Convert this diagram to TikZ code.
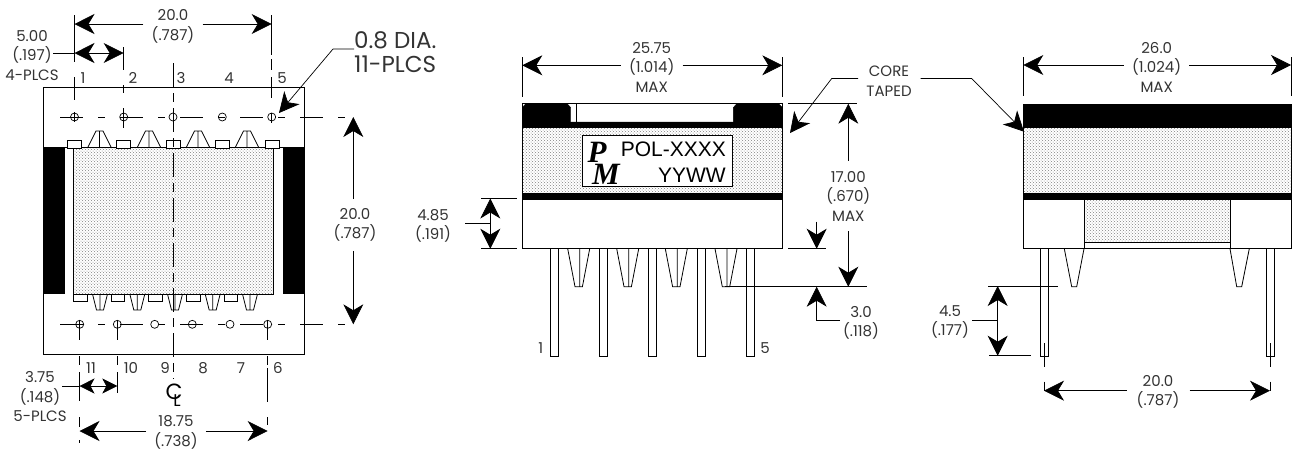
\documentclass[tikz,border=0pt]{standalone}
\usepackage{fontspec}
\setmainfont{Poppins}
\newfontfamily\markfont{Liberation Sans}
\newfontfamily\logofont{Liberation Serif}
\usetikzlibrary{positioning,arrows.meta,patterns}
\tikzset{
  part/.style={draw=black,line width=.8pt},
  core/.style={part,pattern=crosshatch dots,pattern color=black!50},
  solid black/.style={draw=black,fill=black},
  pad/.style={part,fill=white},
  thinline/.style={draw=black,line width=.7pt},
  center line/.style={thinline,dash pattern=on 23pt off 15pt on 7pt off 15pt},
  center dash/.style={thinline,dash pattern=on 24pt off 6pt on 9pt off 6pt},
  dim/.style={thinline,-{Stealth[length=20pt,width=20pt,inset=6pt]}},
  short dim/.style={thinline,-{Stealth[length=15pt,width=15pt,inset=4pt]}},
  dimtext/.style={align=center,inner xsep=8pt,inner ysep=0pt,text=black!80,
    font=\fontsize{15}{19.5}\selectfont},
  pinno/.style={inner sep=0pt,text=black!80,font=\fontsize{15}{16}\selectfont}
}
\begin{document}
\begin{tikzpicture}[x=1pt,y=-1pt]
    \useasboundingbox (0,0) rectangle (1293,451);
    % top view
    \draw[part] (43,87) rectangle (304,354.5);
    \draw[solid black] (43,147) rectangle (64,293.5);
    \draw[solid black] (283,147) rectangle (304,293.5);
    \draw[part] (43,147) -- (304,147);
    \draw[core] (73.5,147.5) rectangle (273.5,294);
    \foreach \x in {67.7,116.7,166,215.3,265}
      \draw[pad] (\x,140) rectangle ++(14,8);
    \foreach \x in {99.5,149,198,247}
      \draw[part] (\x-11.5,147) -- (\x-3.5,131) -- (\x+3.5,131) -- (\x+11.5,147) (\x,131) -- (\x,147);
    \foreach \x in {73.5,111.3,148.8,186.5,224}
      \draw[pad] (\x,294) rectangle ++(13.5,7.7);
    \foreach \x in {100,137.3,175,212.7,250}
      \draw[part] (\x-7.5,294) -- (\x-3.5,310) -- (\x+3.5,310) -- (\x+7.5,294) (\x,294) -- (\x,310);
    \draw[center line] (60,117) -- (353,117);
    \draw[center line] (60,324.3) -- (353,324.3);
    \foreach \x in {74.5,123.7,173,222.3,271.7}
      \draw[thinline] (\x,117) circle (4);
    \foreach \x in {79.7,117.3,154.7,192.3,230,267.7}
      \draw[thinline] (\x,324.3) circle (4);
    \draw[center dash] (173,63) -- (173,379);
    \foreach \x/\ya/\yb in {74.5/15/62,74.5/77/100,74.5/112/122,
      123.7/47/70,123.7/85/93,123.7/108/128,
      271.7/15/55,271.7/59/70,271.7/77/98,271.7/113/123,
      79.5/320/340,79.5/356/365,79.5/372/401,79.5/417/427,79.5/440/443,
      117.3/320/340,117.3/356/365,117.3/372/393,
      267.7/320/340,267.7/356/365,267.7/368/402,267.7/417/425}
      \draw[thinline] (\x,\ya) -- (\x,\yb);
    \foreach \n/\x in {1/83,2/133,3/181,4/229,5/282}
      \node[pinno] (top\n) at (\x,78) {\n};
    \foreach \n/\x in {11/91,10/131,9/165,8/203,7/241,6/278}
      \node[pinno] (bot\n) at (\x,368) {\n};
    \node[inner sep=0pt,font=\fontsize{22}{22}\selectfont] (clc) at (174,392) {C};
    \node[inner sep=0pt,font=\fontsize{17}{17}\selectfont] (cll) at (177,401) {L};
    \coordinate (a1) at (74.5,24);
    \coordinate (a2) at (271.7,24);
    \node[dimtext] (w20) at (173,26.5) {20.0\\(.787)};
    \draw[dim] (w20.west |- a1) -- (a1);
    \draw[dim] (w20.east |- a2) -- (a2);
    \coordinate (b1) at (74.5,53);
    \coordinate (b2) at (123.7,53);
    \coordinate (b3) at (99,53);
    \node[dimtext,inner xsep=0pt] (p500) at (32,55.5) {5.00\\(.197)\\4-PLCS};
    \draw[thinline] (53,53) -- (b1);
    \draw[dim] (b3) -- (b1);
    \draw[dim] (b3) -- (b2);
    \node[dimtext,inner xsep=0pt,anchor=west,align=left,font=\fontsize{23}{24}\selectfont] (dia) at (354,52) {0.8 DIA.\\11-PLCS};
    \coordinate (dia1) at (333,49);
    \coordinate (dia2) at (279,113);
    \draw[dim] (dia.west |- dia1) -- (dia1) -- (dia2);
    \coordinate (c1) at (353.3,117);
    \coordinate (c2) at (353.3,324.3);
    \node[dimtext,inner ysep=9pt] (h20) at (355,225) {20.0\\(.787)};
    \draw[dim] (h20.north -| c1) -- (c1);
    \draw[dim] (h20.south -| c1) -- (c2);
    \coordinate (e1) at (79.5,386);
    \coordinate (e2) at (117.3,386);
    \coordinate (e3) at (98,386);
    \node[dimtext,inner xsep=0pt] (p375) at (40,397) {3.75\\(.148)\\5-PLCS};
    \draw[thinline] (62,386) -- (e1);
    \draw[short dim] (e3) -- (e1);
    \draw[short dim] (e3) -- (e2);
    \coordinate (f1) at (79.5,431);
    \coordinate (f2) at (267.7,431);
    \node[dimtext] (w1875) at (176,432.5) {18.75\\(.738)};
    \draw[dim] (w1875.west |- f1) -- (f1);
    \draw[dim] (w1875.east |- f2) -- (f2);
    % front view
    \draw[part] (522.3,103.7) rectangle (782.3,248.7);
    \draw[core] (522.3,127) rectangle (782.3,193);
    \draw[solid black] (526,103.7) -- (567,103.7) -- (570.7,107.5) -- (570.7,122) -- (733.3,122) -- (733.3,107.5) -- (737,103.7) -- (778.5,103.7) -- (782.3,107.5) -- (782.3,127) -- (522.3,127) -- (522.3,107.5) -- cycle;
    \draw[thinline] (576.7,104) -- (576.7,122);
    \draw[solid black] (522.3,193) rectangle (782.3,199);
    \draw[pad,line width=.7pt] (582.3,135.7) rectangle (732.7,186);
    \node[inner sep=0pt,font=\logofont\bfseries\itshape\fontsize{31}{31}\selectfont] (logoP) at (597,152) {P};
    \node[inner sep=0pt,font=\logofont\bfseries\itshape\fontsize{31}{31}\selectfont] (logoM) at (606,174) {M};
    \node[inner sep=0pt,anchor=east,font=\markfont\fontsize{21}{21}\selectfont] (mark) at (726,149) {POL-XXXX};
    \node[inner sep=0pt,anchor=east,font=\markfont\fontsize{21}{21}\selectfont] (code) at (726,175) {YYWW};
    \foreach \x in {550.7,599,648,697.3,746.7}
      \draw[part] (\x,248.7) rectangle ++(8,107.3);
    \foreach \x in {578.7,627.7,676.3,726}
      \draw[part] (\x-11,248.7) -- (\x-3.7,286.7) -- (\x+3.7,286.7) -- (\x+11,248.7) (\x+1,248.7) -- (\x+1,286.7);
    \node[pinno] (pinA) at (540.7,348) {1};
    \node[pinno] (pinB) at (765,348) {5};
    \coordinate (g1) at (522.3,65.3);
    \coordinate (g2) at (782.3,65.3);
    \node[dimtext] (w2575) at (651.7,67) {25.75\\(1.014)\\MAX};
    \draw[thinline] (522.3,57) -- (522.3,97);
    \draw[thinline] (782.3,57) -- (782.3,97);
    \draw[dim] (w2575.west |- g1) -- (g1);
    \draw[dim] (w2575.east |- g2) -- (g2);
    \node[dimtext,inner xsep=0pt] (core) at (889,81) {CORE\\TAPED};
    \coordinate (k1) at (831.7,78.5);
    \coordinate (k2) at (790,133);
    \coordinate (k3) at (971.7,78.5);
    \coordinate (k4) at (1024,131.7);
    \draw[dim] (858,78.5) -- (k1) -- (k2);
    \draw[dim] (920.7,78.5) -- (k3) -- (k4);
    \coordinate (m1) at (848.3,103.7);
    \coordinate (m2) at (848.3,286.7);
    \node[dimtext,inner ysep=10pt] (h17) at (848.3,196) {17.00\\(.670)\\MAX};
    \draw[thinline] (788,103.7) -- (856.7,103.7);
    \draw[thinline] (725,286.7) -- (866.7,286.7);
    \draw[dim] (h17.north) -- (m1);
    \draw[dim] (h17.south) -- (m2);
    \coordinate (n1) at (490.3,198.5);
    \coordinate (n2) at (490.3,248.7);
    \coordinate (n3) at (490.3,223.7);
    \node[dimtext,inner xsep=0pt] (h485) at (433,226) {4.85\\(.191)};
    \draw[thinline] (481,198.5) -- (516.7,198.5);
    \draw[thinline] (481,248.7) -- (516.7,248.7);
    \draw[thinline] (465,223.7) -- (n3);
    \draw[dim] (n3) -- (n1);
    \draw[dim] (n3) -- (n2);
    \coordinate (q1) at (816.7,248.7);
    \coordinate (q2) at (816.7,286.7);
    \coordinate (q3) at (816.7,320.7);
    \node[dimtext,inner xsep=0pt] (h30) at (861,323) {3.0\\(.118)};
    \draw[thinline] (788,248.7) -- (826,248.7);
    \draw[dim] (816.7,221.7) -- (q1);
    \draw[dim] (840,320.7) -- (q3) -- (q2);
    % side view
    \draw[part] (1023.3,199) rectangle (1291,248.7);
    \draw[solid black] (1023.3,103.7) rectangle (1291,127);
    \draw[core] (1023.3,127) rectangle (1291,193);
    \draw[solid black] (1023.3,193) rectangle (1291,199);
    \draw[core] (1084.7,199) rectangle (1230.3,242.7);
    \draw[pad] (1023.3,199) rectangle (1084.7,248.7);
    \draw[pad] (1230.3,199) rectangle (1291,248.7);
    \draw[part] (1040.7,248.7) rectangle (1048.3,356);
    \draw[part] (1266,248.7) rectangle (1274.3,356);
    \draw[part] (1064.3,248.7) -- (1071.7,286.7) -- (1076.7,286.7) -- (1084,248.7);
    \draw[part] (1230,248.7) -- (1236.7,286.7) -- (1241.7,286.7) -- (1249.3,248.7);
    \foreach \x in {1044,1270} {
      \draw[thinline] (\x,343) -- (\x,366.7);
      \draw[thinline] (\x,381.7) -- (\x,391);
    }
    \coordinate (r1) at (1023.3,65);
    \coordinate (r2) at (1291,65);
    \node[dimtext] (w26) at (1156.7,67) {26.0\\(1.024)\\MAX};
    \draw[thinline] (1023.3,57) -- (1023.3,96);
    \draw[thinline] (1291,57) -- (1291,96);
    \draw[dim] (w26.west |- r1) -- (r1);
    \draw[dim] (w26.east |- r2) -- (r2);
    \coordinate (s1) at (997.7,286);
    \coordinate (s2) at (997.7,355.7);
    \coordinate (s3) at (997.7,320);
    \node[dimtext,inner xsep=0pt] (h45) at (950,322) {4.5\\(.177)};
    \draw[thinline] (988,286) -- (1057.7,286);
    \draw[thinline] (989,355.7) -- (1030.7,355.7);
    \draw[thinline] (972,320) -- (s3);
    \draw[dim] (s3) -- (s1);
    \draw[dim] (s3) -- (s2);
    \coordinate (u1) at (1044,390.7);
    \coordinate (u2) at (1270,390.7);
    \node[dimtext,inner xsep=10pt] (w20b) at (1158,392) {20.0\\(.787)};
    \draw[dim] (w20b.west |- u1) -- (u1);
    \draw[dim] (w20b.east |- u2) -- (u2);
  \end{tikzpicture}
\end{document}
